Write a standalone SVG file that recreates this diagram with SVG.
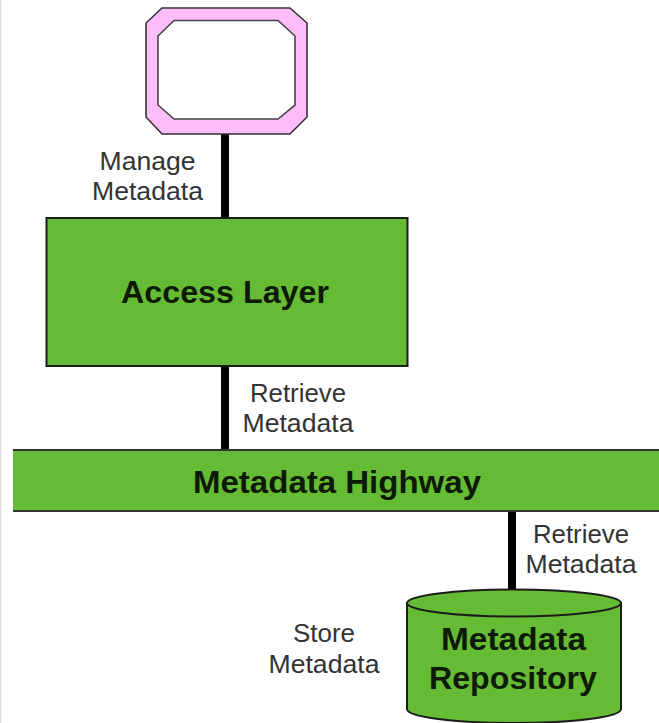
<svg xmlns="http://www.w3.org/2000/svg" width="659" height="723" viewBox="0 0 659 723">
<style>
text{font-family:"Liberation Sans",Arial,sans-serif;text-anchor:middle}
.l{font-size:25px;fill:#333}
.b{font-size:32px;font-weight:bold;fill:#0c1a06}
.n{fill:#66bb35;stroke:#1c1c1c;stroke-width:2}
.c{stroke:#000;stroke-width:8;fill:none}
</style>
<rect width="659" height="723" fill="#fff"/>
<rect x="0" y="0" width="1.5" height="723" fill="#e2e2e2"/>
<g id="connectors">
<line class="c" x1="225" y1="133" x2="225" y2="219"/>
<line class="c" x1="225" y1="365" x2="225" y2="451"/>
<line class="c" x1="512" y1="510" x2="512" y2="591"/>
</g>
<g id="frame">
<path d="M162 8H290L307 23V117L290 134H162L146 117V23Z" fill="#ffbcfb" stroke="#333" stroke-width="1.600"/>
<path d="M174 20.500H278L295 36V105L278 119H174L158 105V36Z" fill="#fff" stroke="#444" stroke-width="1.600"/>
</g>
<g id="label-manage"><text class="l" x="147.500" y="170" textLength="96" lengthAdjust="spacingAndGlyphs">Manage</text><text class="l" x="147.500" y="200" textLength="111" lengthAdjust="spacingAndGlyphs">Metadata</text></g>
<g id="access-layer">
<rect class="n" x="46.500" y="218" width="361" height="148"/>
<text class="b" x="225" y="303" textLength="208" lengthAdjust="spacingAndGlyphs">Access Layer</text>
</g>
<g id="label-retrieve-1"><text class="l" x="298" y="402" textLength="96" lengthAdjust="spacingAndGlyphs">Retrieve</text><text class="l" x="298" y="432" textLength="111" lengthAdjust="spacingAndGlyphs">Metadata</text></g>
<g id="metadata-highway">
<rect x="13" y="450" width="646" height="61" fill="#66bb35"/>
<path d="M13 450H659M13 511H659" stroke="#333" stroke-width="2" fill="none"/>
<text class="b" x="337" y="493" textLength="288" lengthAdjust="spacingAndGlyphs">Metadata Highway</text>
</g>
<g id="label-retrieve-2"><text class="l" x="581" y="543" textLength="96" lengthAdjust="spacingAndGlyphs">Retrieve</text><text class="l" x="581" y="573" textLength="111" lengthAdjust="spacingAndGlyphs">Metadata</text></g>
<g id="label-store"><text class="l" x="324" y="642" textLength="62" lengthAdjust="spacingAndGlyphs">Store</text><text class="l" x="324" y="673" textLength="111" lengthAdjust="spacingAndGlyphs">Metadata</text></g>
<g id="metadata-repository">
<path class="n" d="M407 603V709C407 717 455 723 514 723S621 717 621 709V603Z"/>
<ellipse class="n" cx="514" cy="603" rx="107" ry="13.500"/>
<text class="b" x="513.500" y="650" textLength="145" lengthAdjust="spacingAndGlyphs">Metadata</text>
<text class="b" x="513" y="689" textLength="168" lengthAdjust="spacingAndGlyphs">Repository</text>
</g>
</svg>
